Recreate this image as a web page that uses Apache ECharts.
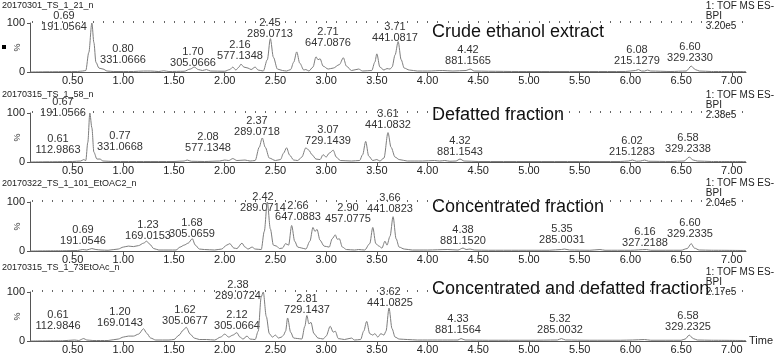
<!DOCTYPE html>
<html>
<head>
<meta charset="utf-8">
<title>BPI chromatograms</title>
<script src="https://cdn.jsdelivr.net/npm/echarts@6/dist/echarts.min.js"></script>
</head>
<body style="margin:0;background:#fff">
<div id="main" style="width:778px;height:356px"></div>
<script>
// sample file names, fraction names and BPI full scale of each trace
var sampleNames = ['20170301_TS_1_21_n', '20170315_TS_1_58_n', '20170322_TS_1_101_EtOAC2_n', '20170315_TS_1_73EtOAc_n'];
var fractionNames = ['Crude ethanol extract', 'Defatted fraction', 'Concentrated fraction', 'Concentrated and defatted fraction'];
var bpiScale = ['3.20e5', '2.38e5', '2.04e5', '2.17e5'];
var xTicks = [0.5, 1.0, 1.5, 2.0, 2.5, 3.0, 3.5, 4.0, 4.5, 5.0, 5.5, 6.0, 6.5, 7.0];

// traces: [retention time (min), relative intensity %]
var trace1 = [[0.08,0],[0.3,0.5],[0.55,1],[0.6,2],[0.63,3],[0.66,40],[0.69,100],[0.71,60],[0.73,20],[0.76,8],[0.80,6],[0.84,2],[0.9,1],[1.1,1],[1.2,2],[1.27,2],[1.35,1],[1.4,2.5],[1.45,1],[1.6,1.5],[1.66,6],[1.70,10],[1.74,5],[1.78,3],[1.82,5],[1.86,2],[2.0,1.5],[2.05,5],[2.08,10],[2.11,4],[2.14,10],[2.16,16],[2.19,10],[2.23,8],[2.26,5],[2.30,10],[2.33,4],[2.38,2],[2.42,25],[2.45,68],[2.48,30],[2.52,6],[2.57,3],[2.61,2],[2.65,5],[2.68,20],[2.71,41],[2.74,18],[2.78,4],[2.80,5],[2.83,2],[2.87,10],[2.90,31],[2.92,25],[2.94,27],[2.97,12],[3.02,6],[3.07,8],[3.13,15],[3.17,29],[3.20,12],[3.25,3],[3.32,6],[3.36,2],[3.45,3],[3.48,20],[3.50,37],[3.53,10],[3.57,4],[3.60,7],[3.63,6],[3.65,10],[3.68,35],[3.71,62],[3.74,25],[3.77,8],[3.82,4],[3.9,2],[4.0,2],[4.15,3],[4.25,2],[4.38,3],[4.42,6],[4.46,2],[4.6,1.5],[4.9,1],[5.2,1],[5.6,1],[5.95,1],[6.05,3],[6.08,5],[6.11,2],[6.14,2],[6.17,4],[6.2,2],[6.4,1],[6.55,2],[6.60,12],[6.64,5],[6.68,2],[6.8,1],[7.14,1]];
var trace2 = [[0.08,0],[0.3,0.5],[0.5,1],[0.58,2],[0.61,5],[0.63,3],[0.65,40],[0.67,100],[0.69,70],[0.71,20],[0.74,6],[0.77,6],[0.8,2],[0.9,1],[1.2,1],[1.5,1],[1.6,2],[1.63,4],[1.67,1.5],[1.8,1],[1.95,2],[2.0,4],[2.04,3],[2.08,7],[2.12,3],[2.2,4],[2.25,2],[2.3,3],[2.34,30],[2.37,49],[2.40,30],[2.44,8],[2.5,3],[2.55,5],[2.58,18],[2.61,29],[2.64,14],[2.68,4],[2.72,3],[2.76,10],[2.80,29],[2.83,24],[2.86,15],[2.9,6],[2.94,5],[2.97,15],[3.0,10],[3.03,18],[3.07,24],[3.10,10],[3.14,3],[3.25,2],[3.33,3],[3.36,15],[3.39,42],[3.42,12],[3.46,3],[3.5,5],[3.53,2],[3.57,8],[3.61,60],[3.64,30],[3.68,10],[3.72,5],[3.8,2],[3.95,2],[4.07,3],[4.12,2],[4.17,3],[4.22,1.5],[4.28,2],[4.32,6],[4.36,2],[4.5,1],[5.0,1],[5.5,1],[5.9,1],[5.98,2],[6.02,4],[6.06,1.5],[6.1,2],[6.14,4],[6.18,1.5],[6.4,1],[6.53,2],[6.58,10],[6.62,4],[6.66,2],[6.8,1],[7.14,1]];
var trace3 = [[0.08,0],[0.4,0.5],[0.55,1],[0.6,3],[0.64,2],[0.69,5],[0.73,3],[0.78,2],[0.85,1.5],[0.95,4],[1.0,8],[1.05,10],[1.1,9],[1.15,11],[1.2,16],[1.23,20],[1.26,14],[1.3,5],[1.35,2],[1.45,2],[1.52,2],[1.56,8],[1.6,12],[1.64,16],[1.68,25],[1.71,12],[1.75,4],[1.8,3],[1.9,2],[1.97,4],[2.02,12],[2.05,15],[2.09,6],[2.12,5],[2.17,16],[2.2,8],[2.23,4],[2.27,8],[2.3,4],[2.36,3],[2.39,40],[2.42,100],[2.45,45],[2.48,12],[2.51,10],[2.54,5],[2.57,6],[2.6,15],[2.63,12],[2.66,52],[2.69,20],[2.72,8],[2.76,6],[2.8,4],[2.84,20],[2.87,48],[2.89,40],[2.91,44],[2.94,22],[2.98,10],[3.03,8],[3.06,25],[3.09,33],[3.11,24],[3.13,25],[3.16,8],[3.2,3],[3.28,2],[3.32,3],[3.38,2],[3.43,15],[3.46,48],[3.49,15],[3.52,10],[3.55,6],[3.58,20],[3.6,12],[3.63,30],[3.66,70],[3.69,25],[3.72,8],[3.77,4],[3.85,2],[4.0,2],[4.2,3],[4.3,2],[4.35,6],[4.38,3],[4.42,4],[4.46,2],[4.6,1.5],[4.9,1.5],[5.2,1.5],[5.32,3],[5.35,4],[5.4,2],[5.6,1.5],[5.7,3],[5.75,1.5],[6.0,1.5],[6.16,3],[6.2,1.5],[6.5,1.5],[6.56,5],[6.60,15],[6.63,6],[6.68,2],[6.8,1.5],[7.14,1]];
var trace4 = [[0.08,0],[0.4,0.5],[0.52,2],[0.56,1],[0.61,5],[0.64,2],[0.7,1],[0.85,1],[0.95,4],[1.0,8],[1.05,10],[1.1,10],[1.15,14],[1.2,25],[1.23,16],[1.27,6],[1.32,2],[1.45,2],[1.5,3],[1.55,12],[1.59,22],[1.62,28],[1.66,14],[1.7,6],[1.75,3],[1.82,3],[1.9,2],[1.96,8],[2.0,14],[2.04,8],[2.08,12],[2.12,17],[2.15,8],[2.18,4],[2.22,10],[2.25,4],[2.3,3],[2.33,20],[2.36,90],[2.38,100],[2.41,50],[2.44,15],[2.47,8],[2.5,12],[2.53,6],[2.56,8],[2.58,12],[2.6,20],[2.62,47],[2.65,18],[2.68,6],[2.72,5],[2.76,4],[2.79,30],[2.81,52],[2.83,35],[2.85,38],[2.88,15],[2.92,6],[2.97,4],[3.0,10],[3.04,30],[3.07,18],[3.09,20],[3.12,5],[3.18,3],[3.25,6],[3.28,2],[3.34,3],[3.37,20],[3.40,40],[3.43,15],[3.46,12],[3.48,15],[3.51,8],[3.54,15],[3.57,12],[3.59,20],[3.62,67],[3.65,25],[3.68,8],[3.72,4],[3.8,3],[3.9,2],[4.1,2],[4.3,2],[4.33,5],[4.37,2],[4.6,1.5],[5.0,1.5],[5.28,2],[5.32,5],[5.36,2],[5.6,1.5],[5.9,1.5],[6.02,2],[6.14,3],[6.2,1.5],[6.5,1.5],[6.54,4],[6.58,12],[6.62,5],[6.66,2],[6.8,1.5],[7.14,1]];

// peak annotations: [retention time, m/z]
var peaks1 = [['0.69','191.0564'],['0.80','331.0666'],['1.70','305.0666'],['2.16','577.1348'],['2.45','289.0713'],['2.71','647.0876'],['3.71','441.0817'],['4.42','881.1565'],['6.08','215.1279'],['6.60','329.2330']];
var peaks2 = [['0.67','191.0566'],['0.61','112.9863'],['0.77','331.0668'],['2.08','577.1348'],['2.37','289.0718'],['3.07','729.1439'],['3.61','441.0832'],['4.32','881.1543'],['6.02','215.1283'],['6.58','329.2338']];
var peaks3 = [['0.69','191.0546'],['1.23','169.0153'],['1.68','305.0659'],['2.42','289.0714'],['2.66','647.0883'],['2.90','457.0775'],['3.66','441.0823'],['4.38','881.1520'],['5.35','285.0031'],['6.16','327.2188'],['6.60','329.2335']];
var peaks4 = [['0.61','112.9846'],['1.20','169.0143'],['1.62','305.0677'],['2.12','305.0664'],['2.38','289.0724'],['2.81','729.1437'],['3.62','441.0825'],['4.33','881.1564'],['5.32','285.0032'],['6.58','329.2325']];

// where each peak label sits (pixel centre)
var labelPos1 = [[64,21.5],[123,54.5],[193,57],[240,50.5],[270,28],[328,37.5],[395,32],[468,55],[637,55],[690,52]];
var labelPos2 = [[63,107.5],[58,144],[120,141.5],[208,142.5],[257,126],[328,135.5],[388,119.5],[460,146],[632,146],[688,143]];
var labelPos3 = [[83,235.5],[148,230.5],[192,228.5],[263,202.5],[298,211.5],[348,213],[390,203.5],[463,235],[562,234.5],[645,237.5],[690,228.5]];
var labelPos4 = [[58,320.5],[120,317],[185,315.5],[237,320.5],[238,290.5],[307,304],[390,297.5],[458,324.5],[560,324.5],[688,321]];

var traces = [trace1, trace2, trace3, trace4];
var peaks = [peaks1, peaks2, peaks3, peaks4];
var labelPos = [labelPos1, labelPos2, labelPos3, labelPos4];

var FONT = '"Liberation Sans", Arial, sans-serif';
var panelBottom = [72, 162, 251, 341];
var panelH = 49;
var titleY = [6, 95, 184, 268];
var infoY = [7, 96, 184, 273];
var fracY = [32, 115, 207, 289];

var minorTicks = [];
for (var t = 1; t <= 71; t++) minorTicks.push(t / 10);

var myChart = echarts.init(document.getElementById('main'));

var grids = [], xAxes = [], yAxes = [], series = [], graphics = [];

for (var i = 0; i < 4; i++) {
    grids.push({left: 30, right: 32, top: panelBottom[i] - panelH, height: panelH,
        containLabel: false, outerBoundsMode: 'none'});
    xAxes.push({
        type: 'value', gridIndex: i, min: 0.08, max: 7.14,
        axisLine: {lineStyle: {color: '#555', width: 1}},
        axisTick: {customValues: xTicks, length: 4, lineStyle: {color: '#555'}},
        axisLabel: {customValues: xTicks, formatter: function (v) { return v.toFixed(2); },
            fontSize: 11, color: '#222', fontFamily: FONT, margin: 3},
        splitLine: {show: false},
        name: i === 3 ? 'Time' : '', nameGap: 3,
        nameTextStyle: {fontSize: 11, color: '#222', fontFamily: FONT}
    });
    xAxes.push({
        type: 'value', gridIndex: i, min: 0.08, max: 7.14,
        axisLine: {show: false},
        axisTick: {customValues: minorTicks, length: 2, lineStyle: {color: '#666'}},
        axisLabel: {show: false},
        splitLine: {show: false}
    });
    yAxes.push({
        type: 'value', gridIndex: i, min: 0, max: 100, interval: 100,
        axisLine: {show: true, lineStyle: {color: '#555'}},
        axisTick: {length: 3, lineStyle: {color: '#555'}},
        axisLabel: {fontSize: 11, color: '#222', fontFamily: FONT, margin: 5},
        splitLine: {show: false},
        name: '%', nameLocation: 'middle', nameRotate: 90, nameGap: 8, nameMoveOverlap: false,
        nameTextStyle: {fontSize: 9, color: '#333', fontFamily: FONT}
    });
    series.push({
        type: 'line', xAxisIndex: 2 * i, yAxisIndex: i,
        data: traces[i], showSymbol: false, smooth: 0.3, smoothMonotone: 'x',
        lineStyle: {color: '#7d7d7d', width: 1}, silent: true
    });

    graphics.push({type: 'text', left: 2, top: titleY[i] - 5,
        style: {text: sampleNames[i], font: '9px ' + FONT, fill: '#222'}});
    graphics.push({type: 'text', right: 4, top: infoY[i] - 6,
        style: {text: '1: TOF MS ES-\nBPI\n' + bpiScale[i], font: '10px ' + FONT, fill: '#222',
            align: 'right', lineHeight: 10}});
    graphics.push({type: 'text', x: 432, y: fracY[i],
        style: {text: fractionNames[i], font: '18px ' + FONT, fill: '#111', verticalAlign: 'middle'}});

    for (var k = 0; k < peaks[i].length; k++) {
        graphics.push({type: 'text', x: labelPos[i][k][0], y: labelPos[i][k][1],
            style: {text: peaks[i][k][0] + '\n' + peaks[i][k][1], font: '11px ' + FONT, fill: '#333',
                align: 'center', verticalAlign: 'middle', lineHeight: 11}});
    }
}

// small marker square at the left of the first trace
graphics.push({type: 'rect', shape: {x: 2, y: 45, width: 4, height: 4}, style: {fill: '#000'}});

myChart.setOption({
    animation: false,
    backgroundColor: '#fff',
    grid: grids,
    xAxis: xAxes,
    yAxis: yAxes,
    series: series,
    graphic: graphics
});
</script>
</body>
</html>
